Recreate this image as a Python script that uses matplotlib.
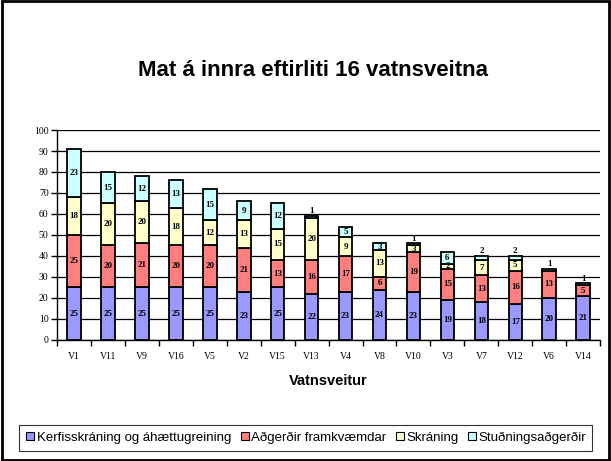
import numpy as np
import matplotlib.pyplot as plt
from matplotlib.patches import Rectangle
from matplotlib.lines import Line2D

cats = ["V1", "V11", "V9", "V16", "V5", "V2", "V15", "V13", "V4", "V8", "V10", "V3", "V7", "V12", "V6", "V14"]
kerfi = [25, 25, 25, 25, 25, 23, 25, 22, 23, 24, 23, 19, 18, 17, 20, 21]
adgerdir = [25, 20, 21, 20, 20, 21, 13, 16, 17, 6, 19, 15, 13, 16, 13, 5]
skraning = [18, 20, 20, 18, 12, 13, 15, 20, 9, 13, 3, 2, 7, 5, 0, 0]
studnings = [23, 15, 12, 13, 15, 9, 12, 1, 5, 3, 1, 6, 2, 2, 1, 1]

names = ["Kerfisskráning og áhættugreining", "Aðgerðir framkvæmdar", "Skráning", "Stuðningsaðgerðir"]
colors = ["#9999FF", "#FF7F7F", "#FFFFCC", "#CCFFFF"]
sans = "Liberation Sans"

fig = plt.figure(figsize=(6.11, 4.61), dpi=100)
ax = fig.add_axes([0.0933, 0.2625, 0.889, 0.4555])

x = np.arange(len(cats))
bottom = np.zeros(len(cats))
series = [kerfi, adgerdir, skraning, studnings]
for k, (vals, col) in enumerate(zip(series, colors)):
    vals = np.array(vals, dtype=float)
    ax.bar(x, vals, 0.4, bottom=bottom, color=col, edgecolor="black", linewidth=1.3, zorder=3)
    for xi, b, v in zip(x, bottom, vals):
        if v <= 0:
            continue
        if k == len(series) - 1 and v <= 2:
            ax.text(xi, b + v + 0.3, f"{int(v)}", ha="center", va="bottom", fontsize=6.5,
                    fontweight="bold", family="Liberation Serif", zorder=4)
        else:
            ax.text(xi, b + v / 2, f"{int(v)}", ha="center", va="center", fontsize=6.5,
                    fontweight="bold", family="Liberation Serif", zorder=4)
    bottom += vals

ax.set_xlim(-0.5, len(cats) - 0.5)
ax.set_ylim(0, 100)
ax.set_yticks(range(0, 101, 10))
ax.yaxis.grid(True, color="black", linewidth=0.9, zorder=0)
ax.set_xticks(x)
ax.set_xticklabels(cats)
ax.set_xticks(np.arange(-0.5, len(cats)), minor=True)
ax.tick_params(axis="x", which="major", length=0, pad=9)
ax.tick_params(axis="x", which="minor", length=4, width=1, direction="out")
ax.tick_params(axis="y", length=4, width=1, direction="out", pad=2)
for lab in ax.get_xticklabels() + ax.get_yticklabels():
    lab.set_family("Liberation Serif")
    lab.set_fontsize(7)
for s in ["top", "right"]:
    ax.spines[s].set_visible(False)
ax.spines["left"].set_linewidth(1)
ax.spines["bottom"].set_linewidth(1)

ax.set_xlabel("Vatnsveitur", fontsize=10.5, fontweight="bold", family=sans, labelpad=9)
fig.text(0.512, 0.848, "Mat á innra eftirliti 16 vatnsveitna", ha="center", va="center",
         fontsize=16, fontweight="bold", family=sans)

handles = [Line2D([], [], marker="s", linestyle="none", markerfacecolor=c, markeredgecolor="black",
                  markersize=6, markeredgewidth=0.8) for c in colors]
leg = fig.legend(handles, names, loc="center", bbox_to_anchor=(0.5, 0.05), ncol=4,
                 prop={"family": sans, "size": 9.5}, frameon=True, fancybox=False,
                 handletextpad=0.1, columnspacing=0.6, handlelength=0.8, borderpad=0.5)
leg.get_frame().set_edgecolor("black")
leg.get_frame().set_linewidth(0.8)

fig.patches.append(Rectangle((0.003, 0.003), 0.994, 0.994, transform=fig.transFigure,
                             fill=False, edgecolor="black", linewidth=2))

fig.savefig("out.png", dpi=100)
